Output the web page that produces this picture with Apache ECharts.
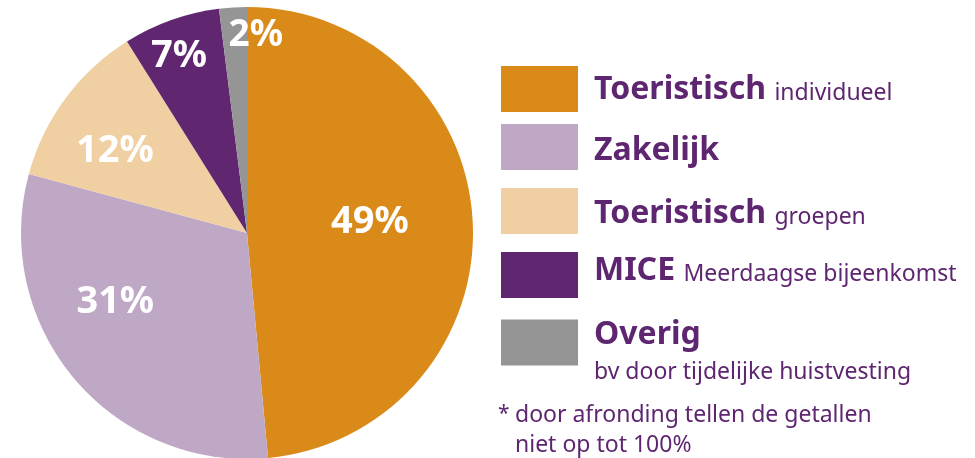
<!DOCTYPE html>
<html><head><meta charset="utf-8">
<script src="https://cdn.jsdelivr.net/npm/echarts@6/dist/echarts.min.js"></script>
<style>html,body{margin:0;padding:0;background:#fff}#c{width:975px;height:458px}</style>
</head><body><div id="c"></div>
<script>
// ---- data ----
const categories = ['Toeristisch individueel', 'Zakelijk', 'Toeristisch groepen', 'MICE', 'Overig'];
const titles = ['Toeristisch', 'Zakelijk', 'Toeristisch', 'MICE', 'Overig'];
const subtitles = ['individueel', '', 'groepen', 'Meerdaagse bijeenkomst', 'bv door tijdelijke huistvesting'];
const values = [49, 31, 12, 7, 2];
const footnote = ['door afronding tellen de getallen', 'niet op tot 100%'];

// ---- styles ----
const colors = ['#D98A19', '#BFA7C6', '#F0CFA2', '#612670', '#959595'];
const PURPLE = '#5E2670';
const FONT = '"Noto Sans", "Open Sans", sans-serif';
const labelShift = [[7, -5], [-43, -6], [-39, -13], [-29, -68], [16, -82]];
const labelSizes = [38, 38, 38, 38, 37];
const swatchTops = [66, 124, 188, 252, 319];
const legendPads = [[2, 0, 0, 11], [7, 0, 0, 11], [5, 0, 0, 11], [0, 0, 8, 11], [20, 0, 0, 11]];

const rich = {
  b: { fontFamily: FONT, fontSize: 32, fontWeight: 'bold', color: PURPLE, lineHeight: 40 },
  s: { fontFamily: FONT, fontSize: 23, color: PURPLE, lineHeight: 35, verticalAlign: 'bottom', padding: [0, 0, 5, 0] },
  s2: { fontFamily: FONT, fontSize: 23, color: PURPLE, lineHeight: 35 }
};

function legendText(i) {
  if (i === 4) return '{b|' + titles[i] + '}\n{s2|' + subtitles[i] + '}';
  if (!subtitles[i]) return '{b|' + titles[i] + '}';
  return '{b|' + titles[i] + ' }{s|' + subtitles[i] + '}';
}

const legends = categories.map(function (name, i) {
  return {
    data: [name],
    left: 501,
    top: swatchTops[i],
    orient: 'vertical',
    padding: 0,
    icon: 'rect',
    itemWidth: 77,
    itemHeight: 46,
    selectedMode: false,
    formatter: function () { return legendText(i); },
    textStyle: { color: PURPLE, fontFamily: FONT, padding: legendPads[i], rich: rich }
  };
});

const chart = echarts.init(document.getElementById('c'), null, { renderer: 'canvas' });
chart.setOption({
  animation: false,
  backgroundColor: '#ffffff',
  color: colors,
  legend: legends,
  series: [{
    type: 'pie',
    center: [247, 233],
    radius: 226,
    startAngle: 90,
    clockwise: true,
    silent: true,
    itemStyle: { borderWidth: 0 },
    emphasis: { disabled: true },
    label: {
      show: true,
      position: 'inside',
      formatter: '{c}%',
      color: '#ffffff',
      fontFamily: FONT,
      fontWeight: 'bold',
      fontSize: 38
    },
    labelLine: { show: false },
    labelLayout: function (p) {
      return { dx: labelShift[p.dataIndex][0], dy: labelShift[p.dataIndex][1] };
    },
    data: categories.map(function (n, i) {
      return { name: n, value: values[i], label: { fontSize: labelSizes[i] } };
    })
  }],
  graphic: [
    { type: 'text', x: 498, y: 414, style: { text: '*', font: '21px ' + FONT, fill: PURPLE, verticalAlign: 'middle' } },
    { type: 'text', x: 515, y: 415.5, style: { text: footnote[0], font: '23px ' + FONT, fill: PURPLE, verticalAlign: 'middle' } },
    { type: 'text', x: 515, y: 445.5, style: { text: footnote[1], font: '23px ' + FONT, fill: PURPLE, verticalAlign: 'middle' } }
  ]
});
</script>
</body></html>
